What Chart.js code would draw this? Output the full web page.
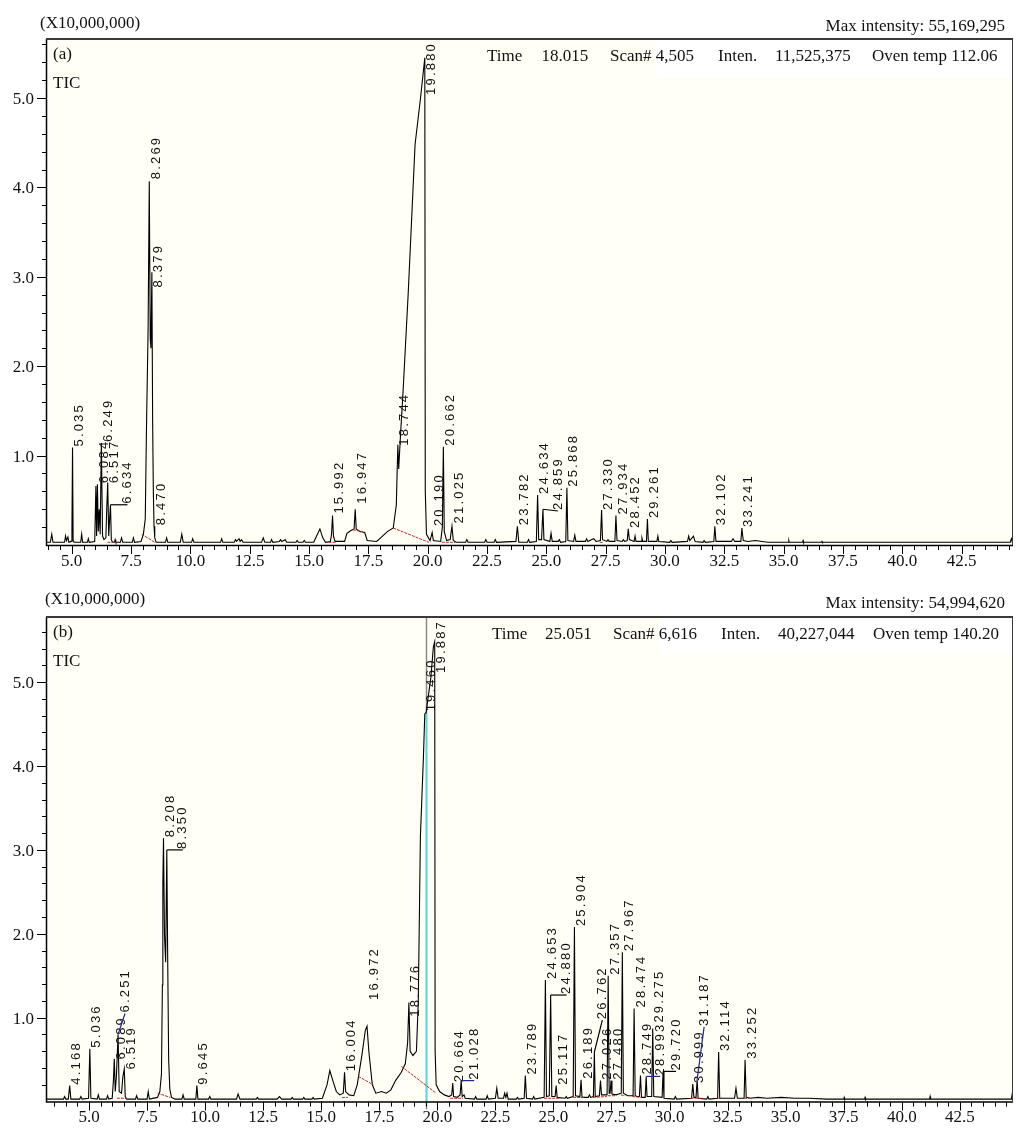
<!DOCTYPE html>
<html>
<head>
<meta charset="utf-8">
<script src="https://cdn.jsdelivr.net/npm/chart.js@4.4.1/dist/chart.umd.min.js"></script>
<style>
  body { margin: 0; background: #fff; }
  #wrap { position: relative; width: 1016px; height: 1134px; }
  canvas { position: absolute; left: 0; }
</style>
</head>
<body>
<div id="wrap">
  <canvas id="chartA" width="1016" height="580" style="top:0"></canvas>
  <canvas id="chartB" width="1016" height="554" style="top:580px"></canvas>
</div>
<script>
// ---- axis tick labels (retention time, min / intensity x10,000,000) ----
const xTickLabels = ['5.0', '7.5', '10.0', '12.5', '15.0', '17.5', '20.0', '22.5', '25.0', '27.5', '30.0', '32.5', '35.0', '37.5', '40.0', '42.5'];
const yTickLabels = ['1.0', '2.0', '3.0', '4.0', '5.0'];

// ---- panel (a) ----
const scaleNote = '(X10,000,000)';
const maxIntensityA = 'Max intensity: 55,169,295';
const statusA = ['Time', '18.015', 'Scan# 4,505', 'Inten.', '11,525,375', 'Oven temp 112.06'];

// labelled peaks: retention time, apex height, height where the label starts
const peakTimesA = [5.035, 6.084, 6.249, 6.517, 6.634, 8.269, 8.379, 8.470, 15.992, 16.947, 18.744, 19.880, 20.190, 20.662, 21.025, 23.782, 24.634, 24.859, 25.868, 27.330, 27.934, 28.452, 29.261, 32.102, 33.241];
const peakApexA  = [1.09, 0.68, 1.14, 0.70, 0.45, 4.07, 3.05, 0.21, 0.33, 0.40, 1.12, 5.45, 0.14, 1.10, 0.21, 0.21, 0.56, 0.40, 0.64, 0.39, 0.33, 0.18, 0.29, 0.21, 0.19];
const labelLevelA = [1.09, 0.68, 1.14, 0.68, 0.45, 4.08, 2.87, 0.21, 0.34, 0.45, 1.10, 5.45, 0.20, 1.10, 0.23, 0.21, 0.56, 0.38, 0.64, 0.38, 0.33, 0.18, 0.29, 0.21, 0.19];

// TIC trace [time, intensity]
const traceA = [
  [3.92,0.03],[4.10,0.03],[4.16,0.12],[4.21,0.03],
  [4.70,0.03],[4.74,0.10],[4.78,0.05],[4.84,0.09],[4.88,0.03],
  [4.98,0.04],[5.01,0.18],[5.035,1.09],[5.06,0.05],[5.10,0.03],
  [5.38,0.03],[5.42,0.12],[5.46,0.03],
  [5.66,0.03],[5.70,0.07],[5.74,0.03],
  [5.97,0.04],[6.02,0.66],[6.05,0.10],[6.084,0.68],[6.12,0.15],[6.16,0.40],[6.20,0.12],[6.249,1.14],[6.30,0.10],[6.36,0.06],[6.44,0.08],[6.47,0.35],[6.517,0.70],[6.56,0.10],[6.60,0.30],[6.634,0.45],[6.67,0.06],[6.72,0.03],
  [6.80,0.03],[6.83,0.06],[6.86,0.03],
  [7.05,0.03],[7.10,0.08],[7.15,0.03],
  [7.55,0.03],[7.60,0.08],[7.65,0.03],
  [7.92,0.04],[8.02,0.12],[8.10,0.29],[8.15,1.29],[8.22,2.42],[8.269,4.07],[8.31,2.30],[8.34,2.20],[8.379,3.05],[8.41,1.40],[8.44,0.60],[8.470,0.21],[8.50,0.08],[8.56,0.03],
  [8.95,0.03],[9.00,0.08],[9.05,0.03],
  [9.58,0.03],[9.64,0.12],[9.70,0.03],
  [10.05,0.03],[10.10,0.07],[10.15,0.03],
  [11.27,0.03],[11.32,0.07],[11.37,0.03],
  [11.85,0.03],[11.90,0.06],[11.95,0.04],[12.05,0.07],[12.10,0.04],[12.16,0.06],[12.22,0.03],
  [13.00,0.03],[13.07,0.08],[13.14,0.03],
  [13.38,0.03],[13.42,0.06],[13.48,0.03],[13.75,0.04],[13.80,0.06],[13.85,0.04],[14.00,0.06],[14.06,0.03],
  [14.45,0.03],[14.50,0.05],[14.55,0.03],[14.75,0.03],[14.80,0.05],[14.85,0.03],
  [15.20,0.03],[15.32,0.10],[15.46,0.18],[15.58,0.08],[15.70,0.03],
  [15.90,0.04],[15.95,0.12],[15.992,0.33],[16.03,0.10],[16.10,0.04],
  [16.50,0.04],[16.60,0.13],[16.75,0.16],[16.90,0.18],[16.947,0.40],[16.99,0.18],[17.15,0.15],[17.35,0.14],[17.45,0.05],[17.85,0.04],
  [18.10,0.10],[18.30,0.15],[18.55,0.19],[18.68,0.45],[18.744,1.12],[18.78,0.85],[18.86,1.25],[18.96,1.70],[19.18,2.81],[19.47,4.48],[19.70,5.00],[19.880,5.45],[19.90,0.60],[19.95,0.12],[20.10,0.05],[20.19,0.14],[20.24,0.05],
  [20.55,0.04],[20.62,0.20],[20.662,1.10],[20.70,0.15],[20.80,0.05],[20.95,0.06],[21.025,0.21],[21.08,0.05],[21.20,0.03],
  [21.60,0.03],[21.65,0.06],[21.70,0.03],
  [22.40,0.03],[22.45,0.06],[22.50,0.03],
  [22.80,0.03],[22.85,0.06],[22.90,0.03],
  [23.72,0.04],[23.782,0.21],[23.84,0.03],
  [24.20,0.03],[24.25,0.06],[24.30,0.03],
  [24.58,0.04],[24.634,0.56],[24.68,0.06],[24.80,0.06],[24.859,0.40],[24.90,0.06],[25.15,0.04],[25.20,0.13],[25.25,0.04],
  [25.50,0.04],[25.55,0.06],[25.60,0.03],
  [25.82,0.04],[25.868,0.64],[25.91,0.05],[26.15,0.04],[26.20,0.11],[26.25,0.04],
  [26.65,0.04],[26.70,0.07],[26.75,0.04],[26.90,0.06],[27.00,0.07],[27.10,0.04],
  [27.28,0.05],[27.330,0.39],[27.37,0.06],[27.55,0.04],[27.60,0.06],[27.65,0.04],
  [27.89,0.04],[27.934,0.33],[27.98,0.05],[28.20,0.04],[28.25,0.06],[28.30,0.04],
  [28.41,0.05],[28.452,0.18],[28.50,0.06],[28.70,0.04],[28.74,0.10],[28.78,0.04],[29.00,0.04],[29.03,0.08],[29.07,0.04],
  [29.22,0.04],[29.261,0.29],[29.30,0.04],[29.66,0.04],[29.70,0.10],[29.74,0.04],
  [30.20,0.03],[30.25,0.05],[30.30,0.03],
  [30.95,0.04],[31.00,0.10],[31.05,0.05],[31.20,0.10],[31.27,0.04],
  [31.60,0.03],[31.65,0.05],[31.70,0.03],
  [32.06,0.04],[32.102,0.21],[32.15,0.04],
  [32.80,0.04],[32.87,0.07],[32.94,0.04],
  [33.20,0.04],[33.241,0.19],[33.30,0.05],[33.50,0.04],[33.80,0.05],[34.10,0.04],[34.34,0.03],
  [35.20,0.03],[35.22,0.05],[35.24,0.03],[35.80,0.03],[35.82,0.05],[35.84,0.03],
  [36.60,0.03],[36.62,0.04],[36.64,0.03],
  [44.55,0.03],[44.60,0.07],[44.64,0.03],[44.67,0.03]
];

// red integration baselines (null = gap)
const redLineA = [
  [6.50,0.03],[6.85,0.03],[6.86,null],
  [7.95,0.12],[8.50,0.03],[8.51,null],
  [15.82,0.03],[16.15,0.03],[16.16,null],
  [16.85,0.17],[17.25,0.15],[17.26,null],
  [18.55,0.19],[20.05,0.03],[20.06,null],
  [20.60,0.03],[21.15,0.03],[21.16,null],
  [27.25,0.03],[27.40,0.03]
];

// ---- panel (b) ----
const maxIntensityB = 'Max intensity: 54,994,620';
const statusB = ['Time', '25.051', 'Scan# 6,616', 'Inten.', '40,227,044', 'Oven temp 140.20'];

const peakTimesB = [4.168, 5.036, 6.089, 6.251, 6.519, 8.208, 8.350, 9.645, 16.004, 16.972, 18.776, 19.460, 19.887, 20.664, 21.028, 23.789, 24.653, 24.880, 25.117, 25.904, 26.189, 26.762, 27.026, 27.357, 27.480, 27.967, 28.474, 28.749, 28.993, 29.275, 29.720, 30.999, 31.187, 32.114, 33.252];
const peakApexB  = [0.19, 0.63, 0.51, 0.80, 0.39, 3.14, 3.00, 0.19, 0.35, 0.90, 1.18, 4.62, 5.48, 0.22, 0.25, 0.31, 1.45, 1.27, 0.19, 2.08, 0.26, 0.59, 0.25, 1.50, 0.25, 1.78, 1.11, 0.31, 0.30, 0.87, 0.36, 0.21, 0.26, 0.59, 0.50];
const labelLevelB = [0.19, 0.63, 0.49, 1.05, 0.37, 3.14, 3.00, 0.19, 0.35, 1.20, 1.00, 4.64, 5.48, 0.22, 0.25, 0.31, 1.45, 1.27, 0.19, 2.08, 0.26, 0.97, 0.25, 1.50, 0.25, 1.78, 1.11, 0.31, 0.30, 0.93, 0.36, 0.21, 0.89, 0.59, 0.50];

const traceB = [
  [3.15,0.03],[3.90,0.03],[3.95,0.06],[4.00,0.03],
  [4.11,0.03],[4.168,0.19],[4.22,0.03],
  [4.60,0.03],[4.65,0.06],[4.70,0.03],
  [4.98,0.04],[5.036,0.63],[5.08,0.04],
  [5.35,0.03],[5.40,0.08],[5.45,0.03],
  [5.75,0.03],[5.80,0.07],[5.85,0.03],
  [6.00,0.04],[6.05,0.25],[6.089,0.51],[6.13,0.12],[6.18,0.30],[6.251,0.80],[6.30,0.12],[6.40,0.10],[6.46,0.30],[6.519,0.39],[6.56,0.06],[6.62,0.03],
  [7.00,0.03],[7.05,0.07],[7.10,0.03],
  [7.50,0.03],[7.55,0.12],[7.60,0.03],
  [7.95,0.05],[8.05,0.12],[8.12,0.33],[8.16,1.39],[8.18,2.60],[8.208,3.14],[8.25,2.00],[8.30,1.66],[8.350,3.00],[8.39,1.66],[8.43,0.50],[8.48,0.15],[8.55,0.05],[8.70,0.03],
  [9.00,0.03],[9.05,0.08],[9.10,0.03],
  [9.60,0.03],[9.645,0.19],[9.69,0.03],
  [10.15,0.03],[10.20,0.06],[10.25,0.03],
  [11.35,0.03],[11.42,0.09],[11.50,0.03],
  [12.20,0.03],[12.25,0.05],[12.30,0.03],
  [13.10,0.03],[13.20,0.06],[13.30,0.03],
  [13.70,0.03],[13.75,0.05],[13.80,0.03],
  [14.20,0.03],[14.25,0.05],[14.30,0.03],[14.60,0.03],[14.65,0.05],[14.70,0.03],
  [15.05,0.04],[15.25,0.20],[15.37,0.37],[15.50,0.25],[15.65,0.12],[15.80,0.08],[15.95,0.10],[16.004,0.35],[16.05,0.12],[16.20,0.08],[16.40,0.07],[16.55,0.20],[16.75,0.55],[16.90,0.85],[16.972,0.90],[17.05,0.60],[17.20,0.20],[17.35,0.10],[17.60,0.12],[17.80,0.10],[18.00,0.14],[18.20,0.25],[18.45,0.35],[18.62,0.45],[18.72,0.70],[18.776,1.18],[18.83,0.60],[18.95,0.55],[19.10,0.60],[19.18,1.20],[19.27,3.15],[19.40,4.10],[19.460,4.62],[19.52,4.64],[19.62,4.85],[19.72,5.05],[19.83,5.42],[19.887,5.48],[19.905,0.60],[19.95,0.20],[20.10,0.12],[20.30,0.08],[20.50,0.06],[20.62,0.08],[20.664,0.22],[20.70,0.06],[20.85,0.05],[20.98,0.08],[21.028,0.25],[21.07,0.06],[21.15,0.08],[21.20,0.04],
  [21.60,0.03],[21.65,0.06],[21.70,0.03],
  [22.10,0.03],[22.15,0.07],[22.20,0.03],
  [22.50,0.04],[22.56,0.16],[22.62,0.04],[22.85,0.04],[22.90,0.10],[22.95,0.05],[23.00,0.10],[23.05,0.03],
  [23.40,0.03],[23.45,0.05],[23.50,0.03],
  [23.74,0.04],[23.789,0.31],[23.84,0.04],
  [24.10,0.03],[24.15,0.06],[24.20,0.03],
  [24.60,0.05],[24.653,1.45],[24.70,0.06],[24.82,0.07],[24.880,1.27],[24.93,0.06],[25.07,0.06],[25.117,0.19],[25.16,0.05],
  [25.50,0.04],[25.55,0.06],[25.60,0.04],
  [25.85,0.06],[25.904,2.08],[25.95,0.07],[26.14,0.06],[26.189,0.26],[26.23,0.05],
  [26.50,0.05],[26.55,0.08],[26.60,0.05],
  [26.72,0.06],[26.762,0.59],[26.80,0.06],[26.98,0.07],[27.026,0.25],[27.07,0.08],[27.31,0.08],[27.357,1.50],[27.40,0.10],[27.44,0.10],[27.480,0.25],[27.52,0.09],[27.70,0.08],[27.92,0.10],[27.967,1.78],[28.01,0.10],[28.20,0.07],[28.43,0.07],[28.474,1.11],[28.52,0.07],[28.60,0.06],[28.70,0.06],[28.749,0.31],[28.79,0.05],[28.95,0.05],[28.993,0.30],[29.03,0.06],[29.23,0.06],[29.275,0.87],[29.32,0.06],[29.68,0.05],[29.720,0.36],[29.76,0.04],
  [30.20,0.03],[30.25,0.06],[30.30,0.03],
  [30.95,0.04],[30.999,0.21],[31.05,0.05],[31.14,0.05],[31.187,0.26],[31.23,0.04],
  [31.60,0.03],[31.65,0.06],[31.70,0.03],
  [32.07,0.04],[32.114,0.59],[32.16,0.04],
  [32.80,0.04],[32.86,0.16],[32.92,0.04],
  [33.21,0.04],[33.252,0.50],[33.30,0.05],[33.50,0.04],[33.80,0.05],[34.20,0.04],[34.80,0.05],[35.40,0.04],[36.00,0.04],[36.77,0.03],
  [37.50,0.03],[37.52,0.05],[37.54,0.03],[38.40,0.03],[38.42,0.05],[38.44,0.03],[41.20,0.03],[41.22,0.06],[41.24,0.03],
  [44.72,0.03],[44.75,0.08],[44.79,0.03]
];

const redLineB = [
  [6.20,0.04],[6.62,0.04],[6.63,null],
  [7.95,0.10],[8.50,0.05],[8.51,null],
  [15.90,0.05],[16.15,0.05],[16.16,null],
  [16.60,0.30],[17.25,0.20],[17.26,null],
  [18.45,0.42],[19.95,0.10],[19.96,null],
  [20.55,0.04],[21.10,0.04],[21.11,null],
  [24.60,0.04],[25.30,0.04],[25.31,null],
  [25.85,0.05],[26.30,0.05],[26.31,null],
  [26.70,0.05],[27.30,0.06],[27.31,null],
  [27.35,0.07],[27.70,0.07],[27.71,null],
  [27.90,0.08],[28.10,0.07],[28.11,null],
  [28.40,0.06],[28.80,0.05],[28.81,null],
  [30.90,0.04],[31.45,0.04],[31.46,null],
  [32.05,0.04],[32.25,0.04],[32.26,null],
  [33.20,0.04],[33.45,0.04]
];

// cursor line in (b)
const cursorTimeB = 19.53;
const cursorPeakB = 4.62;

const SERIF = '17px "Liberation Serif", "Times New Roman", serif';
const BLUE = '#1c2a8c';

// Function to draw the rotated retention time labels (+ leader lines)
function drawPeakLabels(ctx, x, y, area, times, apex, levels, leaders) {
  ctx.save();
  ctx.font = '13px "Liberation Sans", Arial, sans-serif';
  if ('letterSpacing' in ctx) ctx.letterSpacing = '2.2px';
  ctx.fillStyle = '#111';
  ctx.textAlign = 'left';
  ctx.textBaseline = 'middle';
  times.forEach((t, i) => {
    const text = t.toFixed(3);
    const lead = leaders[text];
    const dx = lead ? lead.dx : 7;
    const px0 = x.getPixelForValue(t);
    const py0 = y.getPixelForValue(apex[i]);
    const lx = px0 + dx;
    let ly = y.getPixelForValue(levels[i]) - 1;
    const w = ctx.measureText(text).width;
    if (ly - w < area.top + 3) ly = area.top + 3 + w; // keep inside the frame
    if (lead) {
      ctx.strokeStyle = lead.color;
      ctx.lineWidth = 1.2;
      ctx.beginPath();
      ctx.moveTo(px0, py0);
      ctx.lineTo(lx, ly + 1);
      ctx.stroke();
    }
    ctx.save();
    ctx.translate(lx, ly);
    ctx.rotate(-Math.PI / 2);
    ctx.fillText(text, 0, 0);
    ctx.restore();
  });
  ctx.restore();
}

// Function to draw frame, ticks and tick labels
function drawAxes(ctx, x, y, a) {
  ctx.save();
  ctx.strokeStyle = '#000';
  ctx.lineWidth = 1;
  // y ticks every 0.2, long at whole numbers
  ctx.beginPath();
  for (let k = 1; k * 0.2 <= y.max + 1e-9; k++) {
    const py = Math.round(y.getPixelForValue(k * 0.2)) + 0.5;
    const len = k % 5 === 0 ? 9 : 4;
    ctx.moveTo(a.left - len, py);
    ctx.lineTo(a.left, py);
  }
  // x ticks every 0.5, long every 2.5
  for (let k = Math.ceil(x.min * 2); k <= Math.floor(x.max * 2); k++) {
    const px = Math.round(x.getPixelForValue(k / 2)) + 0.5;
    const len = k % 5 === 0 ? 9 : 5;
    ctx.moveTo(px, a.bottom);
    ctx.lineTo(px, a.bottom + len);
  }
  ctx.stroke();

  // frame
  ctx.lineWidth = 1.5;
  ctx.beginPath();
  ctx.moveTo(a.left + 0.5, a.top);
  ctx.lineTo(a.left + 0.5, a.bottom + 0.5);
  ctx.lineTo(a.right, a.bottom + 0.5);
  ctx.stroke();
  ctx.strokeStyle = '#3a3a3a';
  ctx.lineWidth = 2;
  ctx.beginPath();
  ctx.moveTo(a.left, a.top);
  ctx.lineTo(a.right, a.top);
  ctx.stroke();
  ctx.lineWidth = 1;
  ctx.beginPath();
  ctx.moveTo(a.right - 0.5, a.top);
  ctx.lineTo(a.right - 0.5, a.bottom);
  ctx.stroke();

  // tick labels
  ctx.fillStyle = '#111';
  ctx.font = SERIF;
  ctx.textAlign = 'right';
  ctx.textBaseline = 'alphabetic';
  yTickLabels.forEach(s => {
    ctx.fillText(s, 34, y.getPixelForValue(parseFloat(s)) + 6);
  });
  ctx.textAlign = 'center';
  xTickLabels.forEach(s => {
    ctx.fillText(s, x.getPixelForValue(parseFloat(s)), a.bottom + 20.5);
  });
  ctx.restore();
}

function chromPlugin(p) {
  return {
    id: 'chrom' + p.name,
    beforeDatasetsDraw(chart) {
      const { ctx, chartArea: a } = chart;
      const x = chart.scales.x, y = chart.scales.y;
      ctx.save();
      ctx.fillStyle = '#fffff5';
      ctx.fillRect(a.left, a.top, a.right - a.left, a.bottom - a.top);
      ctx.fillStyle = '#ffffff';
      ctx.fillRect(p.whiteBoxX, a.top, a.right - p.whiteBoxX, 38);
      if (p.cursor) {
        const cx = Math.round(x.getPixelForValue(p.cursor)) + 0.5;
        ctx.lineWidth = 1.5;
        ctx.strokeStyle = '#8a8a8a';
        ctx.beginPath();
        ctx.moveTo(cx, a.top);
        ctx.lineTo(cx, a.bottom + 8);
        ctx.stroke();
        ctx.strokeStyle = '#3fe3e6';
        ctx.beginPath();
        ctx.moveTo(cx, y.getPixelForValue(p.cursorPeak));
        ctx.lineTo(cx, a.bottom);
        ctx.stroke();
      }
      ctx.restore();
    },
    afterDatasetsDraw(chart) {
      const { ctx, chartArea: a } = chart;
      const x = chart.scales.x, y = chart.scales.y;
      drawAxes(ctx, x, y, a);
      drawPeakLabels(ctx, x, y, a, p.times, p.apex, p.levels, p.leaders);

      // header and in-plot texts
      ctx.save();
      ctx.fillStyle = '#111';
      ctx.font = SERIF;
      ctx.textBaseline = 'alphabetic';
      ctx.textAlign = 'left';
      ctx.fillText(scaleNote, p.noteX, p.noteY);
      ctx.fillText(p.tag, 53, a.top + 20);
      ctx.fillText('TIC', 53, a.top + 49);
      p.status.forEach((s, i) => ctx.fillText(s, p.statusX[i], a.top + 21.5));
      ctx.textAlign = 'right';
      ctx.fillText(p.maxText, 1005, p.maxY);
      ctx.restore();
    }
  };
}

const toXY = arr => arr.map(pt => ({ x: pt[0], y: pt[1] }));

// Function to create one chromatogram panel
function makeChart(id, trace, red, p) {
  return new Chart(document.getElementById(id), {
    type: 'line',
    data: {
      datasets: [
        { data: toXY(red), borderColor: '#c0282d', borderWidth: 1, borderDash: [3, 1], pointRadius: 0, spanGaps: false },
        { data: toXY(trace), borderColor: '#000', borderWidth: 1.1, pointRadius: 0 }
      ]
    },
    options: {
      responsive: false,
      animation: false,
      devicePixelRatio: 1,
      layout: { padding: { left: 46, right: 3, top: p.top, bottom: p.bottom } },
      elements: { line: { tension: 0 } },
      scales: {
        x: { type: 'linear', min: p.xMin, max: p.xMax, display: false },
        y: { type: 'linear', min: 0, max: p.yMax, display: false }
      },
      plugins: { legend: { display: false }, tooltip: { enabled: false } }
    },
    plugins: [chromPlugin(p)]
  });
}

makeChart('chartA', traceA, redLineA, {
  name: 'A', top: 39, bottom: 35, xMin: 3.917, xMax: 44.667, yMax: 5.66,
  times: peakTimesA, apex: peakApexA, levels: labelLevelA,
  leaders: { '6.634': { dx: 17, color: '#000' }, '24.859': { dx: 15, color: '#000' } },
  tag: '(a)', status: statusA, statusX: [487, 541.5, 610, 718, 775, 872],
  noteX: 40, noteY: 28, maxText: maxIntensityA, maxY: 31, whiteBoxX: 657
});

makeChart('chartB', traceB, redLineB, {
  name: 'B', top: 37, bottom: 32.4, xMin: 3.148, xMax: 44.79, yMax: 5.776,
  times: peakTimesB, apex: peakApexB, levels: labelLevelB,
  leaders: {
    '6.251': { dx: 7, color: BLUE }, '8.350': { dx: 16, color: '#000' },
    '21.028': { dx: 13, color: BLUE }, '24.880': { dx: 16, color: '#000' },
    '26.762': { dx: 8, color: '#000' }, '28.993': { dx: 14, color: BLUE },
    '29.720': { dx: 13, color: '#000' }, '31.187': { dx: 7, color: BLUE }
  },
  cursor: cursorTimeB, cursorPeak: cursorPeakB,
  tag: '(b)', status: statusB, statusX: [492, 545, 613, 721, 778, 873],
  noteX: 45, noteY: 24, maxText: maxIntensityB, maxY: 28, whiteBoxX: 660
});
</script>
</body>
</html>
